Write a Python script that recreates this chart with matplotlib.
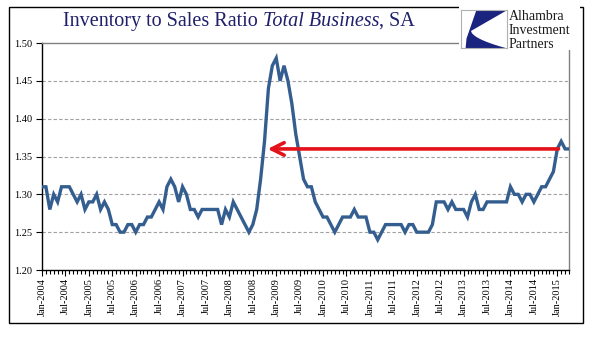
import matplotlib
matplotlib.use("Agg")
import matplotlib.pyplot as plt
from matplotlib.patches import Rectangle, Polygon
import numpy as np

# monthly inventory/sales ratio, Jan 2004 - Apr 2015
ratio = [
    1.31, 1.31, 1.28, 1.30, 1.29, 1.31, 1.31, 1.31, 1.30, 1.29, 1.30, 1.28,  # 2004
    1.29, 1.29, 1.30, 1.28, 1.29, 1.28, 1.26, 1.26, 1.25, 1.25, 1.26, 1.26,  # 2005
    1.25, 1.26, 1.26, 1.27, 1.27, 1.28, 1.29, 1.28, 1.31, 1.32, 1.31, 1.29,  # 2006
    1.31, 1.30, 1.28, 1.28, 1.27, 1.28, 1.28, 1.28, 1.28, 1.28, 1.26, 1.28,  # 2007
    1.27, 1.29, 1.28, 1.27, 1.26, 1.25, 1.26, 1.28, 1.32, 1.37, 1.44, 1.47,  # 2008
    1.48, 1.45, 1.47, 1.45, 1.42, 1.38, 1.35, 1.32, 1.31, 1.31, 1.29, 1.28,  # 2009
    1.27, 1.27, 1.26, 1.25, 1.26, 1.27, 1.27, 1.27, 1.28, 1.27, 1.27, 1.27,  # 2010
    1.25, 1.25, 1.24, 1.25, 1.26, 1.26, 1.26, 1.26, 1.26, 1.25, 1.26, 1.26,  # 2011
    1.25, 1.25, 1.25, 1.25, 1.26, 1.29, 1.29, 1.29, 1.28, 1.29, 1.28, 1.28,  # 2012
    1.28, 1.27, 1.29, 1.30, 1.28, 1.28, 1.29, 1.29, 1.29, 1.29, 1.29, 1.29,  # 2013
    1.31, 1.30, 1.30, 1.29, 1.30, 1.30, 1.29, 1.30, 1.31, 1.31, 1.32, 1.33,  # 2014
    1.36, 1.37, 1.36, 1.36,                                                  # 2015
]
years = list(range(2004, 2016))
tick_labels = []
for y in years:
    tick_labels += ['Jan-%d' % y, 'Jul-%d' % y]
tick_labels = tick_labels[:23]  # up to Jan-2015

level = 1.36          # current ratio, traced back to late 2008
arrow_from = 132.3
arrow_to = 57.8

W, H = 596, 341
serif = 'Liberation Serif'
navy = '#1f1f6b'
blue = '#345e8f'
red = '#e3121b'

fig = plt.figure(figsize=(W / 100, H / 100), dpi=100)
fig.patch.set_facecolor('white')

# outer frame
fig.patches.append(Rectangle((9 / W, 1 - 323 / H), (583 - 9) / W, (323 - 7) / H,
                             transform=fig.transFigure, fill=False,
                             ec='black', lw=1.0, zorder=0))

ax = fig.add_axes([42 / W, 1 - 270 / H, (569 - 42) / W, (270 - 43) / H])
x = np.arange(len(ratio))
ax.plot(x, ratio, color=blue, lw=2.4, solid_joinstyle='miter', zorder=3)

ax.set_xlim(0, len(ratio) - 1)
ax.set_ylim(1.20, 1.50)
ax.set_yticks(np.arange(1.20, 1.501, 0.05))
ax.set_yticklabels(['%.2f' % v for v in np.arange(1.20, 1.501, 0.05)])
ax.set_xticks(np.arange(0, 6 * len(tick_labels), 6))
ax.set_xticklabels(tick_labels, rotation=90)
ax.set_xticks(x, minor=True)

for lab in ax.get_xticklabels() + ax.get_yticklabels():
    lab.set_family(serif)
    lab.set_fontsize(7.5)
    lab.set_color('#111111')

ax.tick_params(axis='both', which='both', direction='out', colors='black', width=0.8)
ax.tick_params(axis='x', which='major', length=4, pad=2)
ax.tick_params(axis='x', which='minor', length=3)
ax.tick_params(axis='y', length=4, pad=3)

for v in [1.25, 1.30, 1.35, 1.40, 1.45]:
    ax.axhline(v, color='#a0a0a0', lw=0.8, ls=(0, (3, 2)), zorder=1)

ax.spines['left'].set_color('black')
ax.spines['bottom'].set_color('black')
ax.spines['top'].set_color('#808080')
ax.spines['right'].set_color('#808080')
for s in ax.spines.values():
    s.set_linewidth(1.0)

ax.annotate('', xy=(arrow_to, level), xytext=(arrow_from, level),
            arrowprops=dict(arrowstyle='->,head_length=0.9,head_width=0.45',
                            color=red, lw=2.6, shrinkA=0, shrinkB=0),
            zorder=4)

# title, with the italic part set as its own piece
fig.canvas.draw()
r = fig.canvas.get_renderer()
tx = 63 / W
ty = 1 - 26 / H
for txt, style in [('Inventory to Sales Ratio ', 'normal'),
                   ('Total Business', 'italic'),
                   (', SA', 'normal')]:
    t = fig.text(tx, ty, txt, family=serif, style=style, fontsize=14.5,
                 color=navy, ha='left', va='baseline')
    bb = t.get_window_extent(renderer=r)
    tx += bb.width / W

# logo block
fig.patches.append(Rectangle((459 / W, 1 - 50 / H), (580 - 459) / W, (50 - 6) / H,
                             transform=fig.transFigure, fc='white', ec='none',
                             zorder=2))
lax = fig.add_axes([461 / W, 1 - 48 / H, 46 / W, 38 / H], zorder=3)
lax.set_xlim(0, 1)
lax.set_ylim(0, 1)
lax.set_xticks([])
lax.set_yticks([])
for s in lax.spines.values():
    s.set_color('#b0b0b0')
    s.set_linewidth(0.8)
t = np.linspace(0, 1, 30)
curve = np.column_stack([0.22 + 0.08 * np.sin(np.pi * t) * 0 + 0.75 * t ** 1.8,
                         0.45 - 0.45 * t])
top = [(0.33, 0.98), (0.98, 0.98), (0.22, 0.45)]
shape = np.vstack([top, curve[1:], [(0.10, 0.0), (0.12, 0.25)]])
lax.add_patch(Polygon(shape, closed=True, fc='#1a237e', ec='none'))
for i, word in enumerate(['Alhambra', 'Investment', 'Partners']):
    fig.text(509 / W, 1 - (17 + 13.5 * i) / H, word, family=serif, fontsize=10,
             color='#1a1a1a', ha='left', va='center', zorder=4)

fig.savefig('out.png', dpi=100)
